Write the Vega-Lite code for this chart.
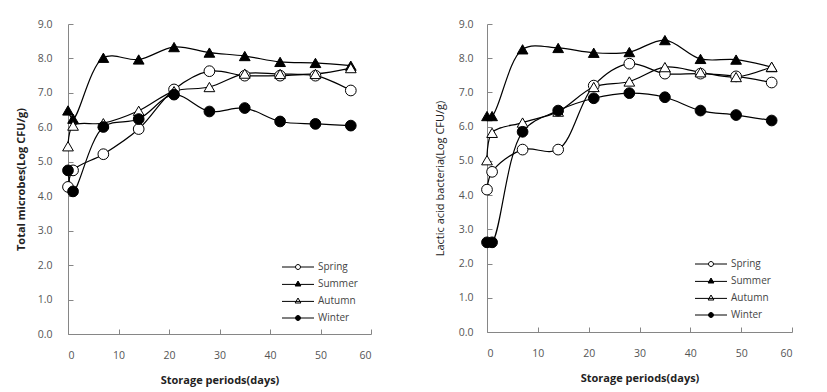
{
  "$schema": "https://vega.github.io/schema/vega-lite/v6.json",
  "background": "white",
  "padding": {"left": 15, "top": 19, "right": 5, "bottom": 5},
  "spacing": 62,
  "config": {
    "view": {"stroke": null},
    "font": "Open Sans",
    "axis": {
      "grid": false,
      "domainColor": "#868686",
      "tickColor": "#868686",
      "labelColor": "#555555",
      "labelFont": "Open Sans",
      "labelFontSize": 10.5,
      "titleColor": "#222222",
      "titleFont": "Open Sans",
      "titleFontSize": 11
    },
    "legend": {
      "labelFont": "Open Sans",
      "labelFontSize": 10,
      "labelColor": "#444444"
    }
  },
  "datasets": {
    "all": [
      {"panel": "TM", "season": "Spring", "day": 0, "value": 4.27},
      {"panel": "TM", "season": "Spring", "day": 1, "value": 4.75},
      {"panel": "TM", "season": "Spring", "day": 7, "value": 5.22},
      {"panel": "TM", "season": "Spring", "day": 14, "value": 5.95},
      {"panel": "TM", "season": "Spring", "day": 21, "value": 7.1},
      {"panel": "TM", "season": "Spring", "day": 28, "value": 7.63},
      {"panel": "TM", "season": "Spring", "day": 35, "value": 7.5},
      {"panel": "TM", "season": "Spring", "day": 42, "value": 7.5},
      {"panel": "TM", "season": "Spring", "day": 49, "value": 7.5},
      {"panel": "TM", "season": "Spring", "day": 56, "value": 7.07},
      {"panel": "TM", "season": "Summer", "day": 0, "value": 6.49},
      {"panel": "TM", "season": "Summer", "day": 1, "value": 6.25},
      {"panel": "TM", "season": "Summer", "day": 7, "value": 8.02},
      {"panel": "TM", "season": "Summer", "day": 14, "value": 7.97},
      {"panel": "TM", "season": "Summer", "day": 21, "value": 8.33},
      {"panel": "TM", "season": "Summer", "day": 28, "value": 8.17},
      {"panel": "TM", "season": "Summer", "day": 35, "value": 8.07},
      {"panel": "TM", "season": "Summer", "day": 42, "value": 7.9},
      {"panel": "TM", "season": "Summer", "day": 49, "value": 7.87},
      {"panel": "TM", "season": "Summer", "day": 56, "value": 7.79},
      {"panel": "TM", "season": "Autumn", "day": 0, "value": 5.45},
      {"panel": "TM", "season": "Autumn", "day": 1, "value": 6.05},
      {"panel": "TM", "season": "Autumn", "day": 7, "value": 6.12},
      {"panel": "TM", "season": "Autumn", "day": 14, "value": 6.48},
      {"panel": "TM", "season": "Autumn", "day": 21, "value": 7.05},
      {"panel": "TM", "season": "Autumn", "day": 28, "value": 7.17},
      {"panel": "TM", "season": "Autumn", "day": 35, "value": 7.56},
      {"panel": "TM", "season": "Autumn", "day": 42, "value": 7.55},
      {"panel": "TM", "season": "Autumn", "day": 49, "value": 7.55},
      {"panel": "TM", "season": "Autumn", "day": 56, "value": 7.72},
      {"panel": "TM", "season": "Winter", "day": 0, "value": 4.75},
      {"panel": "TM", "season": "Winter", "day": 1, "value": 4.14},
      {"panel": "TM", "season": "Winter", "day": 7, "value": 6.01},
      {"panel": "TM", "season": "Winter", "day": 14, "value": 6.24},
      {"panel": "TM", "season": "Winter", "day": 21, "value": 6.95},
      {"panel": "TM", "season": "Winter", "day": 28, "value": 6.46},
      {"panel": "TM", "season": "Winter", "day": 35, "value": 6.56},
      {"panel": "TM", "season": "Winter", "day": 42, "value": 6.17},
      {"panel": "TM", "season": "Winter", "day": 49, "value": 6.1},
      {"panel": "TM", "season": "Winter", "day": 56, "value": 6.05},
      {"panel": "LAB", "season": "Spring", "day": 0, "value": 4.16},
      {"panel": "LAB", "season": "Spring", "day": 1, "value": 4.68},
      {"panel": "LAB", "season": "Spring", "day": 7, "value": 5.33},
      {"panel": "LAB", "season": "Spring", "day": 14, "value": 5.33},
      {"panel": "LAB", "season": "Spring", "day": 21, "value": 7.2},
      {"panel": "LAB", "season": "Spring", "day": 28, "value": 7.84},
      {"panel": "LAB", "season": "Spring", "day": 35, "value": 7.55},
      {"panel": "LAB", "season": "Spring", "day": 42, "value": 7.55},
      {"panel": "LAB", "season": "Spring", "day": 49, "value": 7.47},
      {"panel": "LAB", "season": "Spring", "day": 56, "value": 7.29},
      {"panel": "LAB", "season": "Summer", "day": 0, "value": 6.31},
      {"panel": "LAB", "season": "Summer", "day": 1, "value": 6.31},
      {"panel": "LAB", "season": "Summer", "day": 7, "value": 8.26},
      {"panel": "LAB", "season": "Summer", "day": 14, "value": 8.3},
      {"panel": "LAB", "season": "Summer", "day": 21, "value": 8.16},
      {"panel": "LAB", "season": "Summer", "day": 28, "value": 8.18},
      {"panel": "LAB", "season": "Summer", "day": 35, "value": 8.53},
      {"panel": "LAB", "season": "Summer", "day": 42, "value": 7.98},
      {"panel": "LAB", "season": "Summer", "day": 49, "value": 7.96},
      {"panel": "LAB", "season": "Summer", "day": 56, "value": 7.74},
      {"panel": "LAB", "season": "Autumn", "day": 0, "value": 5.02},
      {"panel": "LAB", "season": "Autumn", "day": 1, "value": 5.82},
      {"panel": "LAB", "season": "Autumn", "day": 7, "value": 6.12},
      {"panel": "LAB", "season": "Autumn", "day": 14, "value": 6.44},
      {"panel": "LAB", "season": "Autumn", "day": 21, "value": 7.16},
      {"panel": "LAB", "season": "Autumn", "day": 28, "value": 7.32},
      {"panel": "LAB", "season": "Autumn", "day": 35, "value": 7.74},
      {"panel": "LAB", "season": "Autumn", "day": 42, "value": 7.59},
      {"panel": "LAB", "season": "Autumn", "day": 49, "value": 7.45},
      {"panel": "LAB", "season": "Autumn", "day": 56, "value": 7.75},
      {"panel": "LAB", "season": "Winter", "day": 0, "value": 2.62},
      {"panel": "LAB", "season": "Winter", "day": 1, "value": 2.62},
      {"panel": "LAB", "season": "Winter", "day": 7, "value": 5.85},
      {"panel": "LAB", "season": "Winter", "day": 14, "value": 6.47},
      {"panel": "LAB", "season": "Winter", "day": 21, "value": 6.83},
      {"panel": "LAB", "season": "Winter", "day": 28, "value": 6.98},
      {"panel": "LAB", "season": "Winter", "day": 35, "value": 6.86},
      {"panel": "LAB", "season": "Winter", "day": 42, "value": 6.47},
      {"panel": "LAB", "season": "Winter", "day": 49, "value": 6.34},
      {"panel": "LAB", "season": "Winter", "day": 56, "value": 6.18}
    ]
  },
  "data": {"name": "all"},
  "resolve": {"scale": {"x": "independent", "y": "independent", "shape": "independent", "fill": "independent"}, "legend": {"shape": "independent", "fill": "independent"}},
  "hconcat": [
    {
      "width": 303,
      "height": 310,
      "transform": [{"filter": "datum.panel === 'TM'"}],
      "encoding": {
        "x": {"field": "day", "type": "quantitative", "scale": {"domain": [0, 60], "nice": false},
          "axis": {"title": "Storage periods(days)", "values": [0, 10, 20, 30, 40, 50, 60], "tickSize": -5, "labelPadding": 21, "titlePadding": 14, "titleFontWeight": "bold"}},
        "y": {"field": "value", "type": "quantitative", "scale": {"domain": [0, 9], "nice": false},
          "axis": {"title": "Total microbes(Log CFU/g)", "values": [0, 1, 2, 3, 4, 5, 6, 7, 8, 9], "format": ".1f", "tickSize": -5, "labelPadding": 21, "titlePadding": 11, "titleFontWeight": "bold"}}
      },
      "layer": [
        {"mark": {"type": "line", "interpolate": "catmull-rom", "color": "black", "strokeWidth": 1.2},
         "encoding": {"detail": {"field": "season"}}},
        {"mark": {"type": "point", "stroke": "black", "strokeWidth": 1, "opacity": 1, "size": 115},
         "encoding": {
           "shape": {"condition": {"test": "datum.season === 'Summer' || datum.season === 'Autumn'", "value": "triangle-up"}, "value": "circle"},
           "fill": {"condition": {"test": "datum.season === 'Summer' || datum.season === 'Winter'", "value": "black"}, "value": "white"}}},
        {"mark": {"type": "point", "stroke": "black", "strokeWidth": 1, "fillOpacity": 0, "strokeOpacity": 0},
         "encoding": {
           "shape": {"field": "season", "type": "nominal",
             "scale": {"domain": ["Spring", "Summer", "Autumn", "Winter"], "range": [
               "M-4,0H-0.62M0.62,0H4M-0.62,0A0.62,0.62,0,1,1,0.62,0A0.62,0.62,0,1,1,-0.62,0Z",
               "M-4,0.1H4M0,-0.75L0.72,0.5L-0.72,0.5Z",
               "M-4,0.1H4M0,-0.75L0.72,0.5L-0.72,0.5Z",
               "M-4,0H-0.62M0.62,0H4M-0.62,0A0.62,0.62,0,1,1,0.62,0A0.62,0.62,0,1,1,-0.62,0Z"]},
             "legend": {"title": null, "orient": "none", "legendX": 225, "legendY": 238, "symbolSize": 64, "symbolOpacity": 1, "symbolStrokeWidth": 1, "labelOffset": 15, "rowPadding": 7}},
           "fill": {"field": "season", "type": "nominal",
             "scale": {"domain": ["Spring", "Summer", "Autumn", "Winter"], "range": ["white", "black", "white", "black"]},
             "legend": {"title": null, "orient": "none", "legendX": 225, "legendY": 238, "symbolSize": 64, "symbolOpacity": 1, "symbolStrokeWidth": 1, "labelOffset": 15, "rowPadding": 7}}
         }}
      ]
    },
    {
      "width": 305,
      "height": 308,
      "transform": [{"filter": "datum.panel === 'LAB'"}],
      "encoding": {
        "x": {"field": "day", "type": "quantitative", "scale": {"domain": [0, 60], "nice": false},
          "axis": {"title": "Storage periods(days)", "values": [0, 10, 20, 30, 40, 50, 60], "tickSize": -5, "labelPadding": 21, "titlePadding": 14, "titleFontWeight": "bold"}},
        "y": {"field": "value", "type": "quantitative", "scale": {"domain": [0, 9], "nice": false},
          "axis": {"title": "Lactic acid  bacteria(Log CFU/g)", "values": [0, 1, 2, 3, 4, 5, 6, 7, 8, 9], "format": ".1f", "tickSize": -5, "labelPadding": 19, "titlePadding": 13, "titleFontWeight": "normal"}}
      },
      "layer": [
        {"mark": {"type": "line", "interpolate": "catmull-rom", "color": "black", "strokeWidth": 1.2},
         "encoding": {"detail": {"field": "season"}}},
        {"mark": {"type": "point", "stroke": "black", "strokeWidth": 1, "opacity": 1, "size": 115},
         "encoding": {
           "shape": {"condition": {"test": "datum.season === 'Summer' || datum.season === 'Autumn'", "value": "triangle-up"}, "value": "circle"},
           "fill": {"condition": {"test": "datum.season === 'Summer' || datum.season === 'Winter'", "value": "black"}, "value": "white"}}},
        {"mark": {"type": "point", "stroke": "black", "strokeWidth": 1, "fillOpacity": 0, "strokeOpacity": 0},
         "encoding": {
           "shape": {"field": "season", "type": "nominal",
             "scale": {"domain": ["Spring", "Summer", "Autumn", "Winter"], "range": [
               "M-4,0H-0.62M0.62,0H4M-0.62,0A0.62,0.62,0,1,1,0.62,0A0.62,0.62,0,1,1,-0.62,0Z",
               "M-4,0.1H4M0,-0.75L0.72,0.5L-0.72,0.5Z",
               "M-4,0.1H4M0,-0.75L0.72,0.5L-0.72,0.5Z",
               "M-4,0H-0.62M0.62,0H4M-0.62,0A0.62,0.62,0,1,1,0.62,0A0.62,0.62,0,1,1,-0.62,0Z"]},
             "legend": {"title": null, "orient": "none", "legendX": 219, "legendY": 235, "symbolSize": 64, "symbolOpacity": 1, "symbolStrokeWidth": 1, "labelOffset": 15, "rowPadding": 7}},
           "fill": {"field": "season", "type": "nominal",
             "scale": {"domain": ["Spring", "Summer", "Autumn", "Winter"], "range": ["white", "black", "white", "black"]},
             "legend": {"title": null, "orient": "none", "legendX": 219, "legendY": 235, "symbolSize": 64, "symbolOpacity": 1, "symbolStrokeWidth": 1, "labelOffset": 15, "rowPadding": 7}}
         }}
      ]
    }
  ]
}
